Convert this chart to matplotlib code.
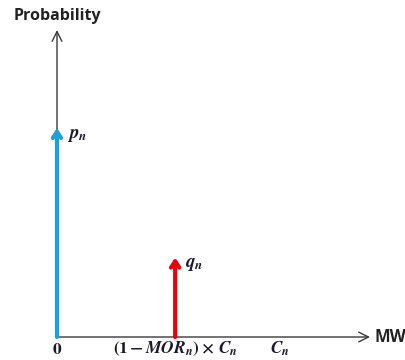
import matplotlib
matplotlib.use("Agg")
import matplotlib.pyplot as plt

# Two-state capacity outage distribution of unit n
tick_positions = [0.0, 0.53, 1.0]
tick_labels = [r'$\mathbf{0}$',
               r'$\mathbf{(1-}\mathbfit{MOR_n}\mathbf{)\times}\,\mathbfit{C_n}$',
               r'$\mathbfit{C_n}$']
state_x = [0.0, 0.53]
state_prob = [1.0, 0.38]
state_labels = [r'$\mathbfit{p_n}$', r'$\mathbfit{q_n}$']
state_colors = ['#1ba1e2', '#e8000b']

plt.rcParams['mathtext.fontset'] = 'stix'

W, H = 406, 360
fig = plt.figure(figsize=(W / 100, H / 100), dpi=100)
ax = fig.add_axes([0, 0, 1, 1])
ax.set_axis_off()

# data units: 1 on x = 223 px, 1 on y = 209 px; origin at (57, 23) px from bottom-left
sx, sy = 223.0, 209.0
ox, oy = 57.0, 23.0
ax.set_xlim(-ox / sx, (W - ox) / sx)
ax.set_ylim(-oy / sy, (H - oy) / sy)

x_end = 313 / sx
y_end = 307 / sy
axis_col = '#3a3a3a'
ax.annotate('', xy=(x_end, 0), xytext=(0, 0),
            arrowprops=dict(arrowstyle='->,head_length=0.7,head_width=0.35',
                            color=axis_col, lw=1.0, shrinkA=0, shrinkB=0))
ax.annotate('', xy=(0, y_end), xytext=(0, 0),
            arrowprops=dict(arrowstyle='->,head_length=0.7,head_width=0.35',
                            color=axis_col, lw=1.0, shrinkA=0, shrinkB=0))

ax.text(x_end + 5 / sx, 0, 'MW', fontsize=12, fontweight='bold',
        family='Open Sans', color='#222222', va='center', ha='left')
ax.text(-43 / sx, y_end + 14 / sy, 'Probability', fontsize=11.5, fontweight='bold',
        family='Open Sans', color='#222222', va='center', ha='left')

for x, p, lab, c in zip(state_x, state_prob, state_labels, state_colors):
    ax.annotate('', xy=(x, p), xytext=(x, 0),
                arrowprops=dict(arrowstyle='->,head_length=0.45,head_width=0.3',
                                color=c, lw=3.0, shrinkA=0, shrinkB=0))
    ax.text(x + 10 / sx, p - 6 / sy, lab, fontsize=13.5, color='#1a1a2a',
            va='center', ha='left')

for x, lab in zip(tick_positions, tick_labels):
    ax.text(x, -21 / sy, lab, fontsize=12.5, color='#1a1a2a', va='bottom', ha='center')

fig.savefig('out.png', dpi=100)
